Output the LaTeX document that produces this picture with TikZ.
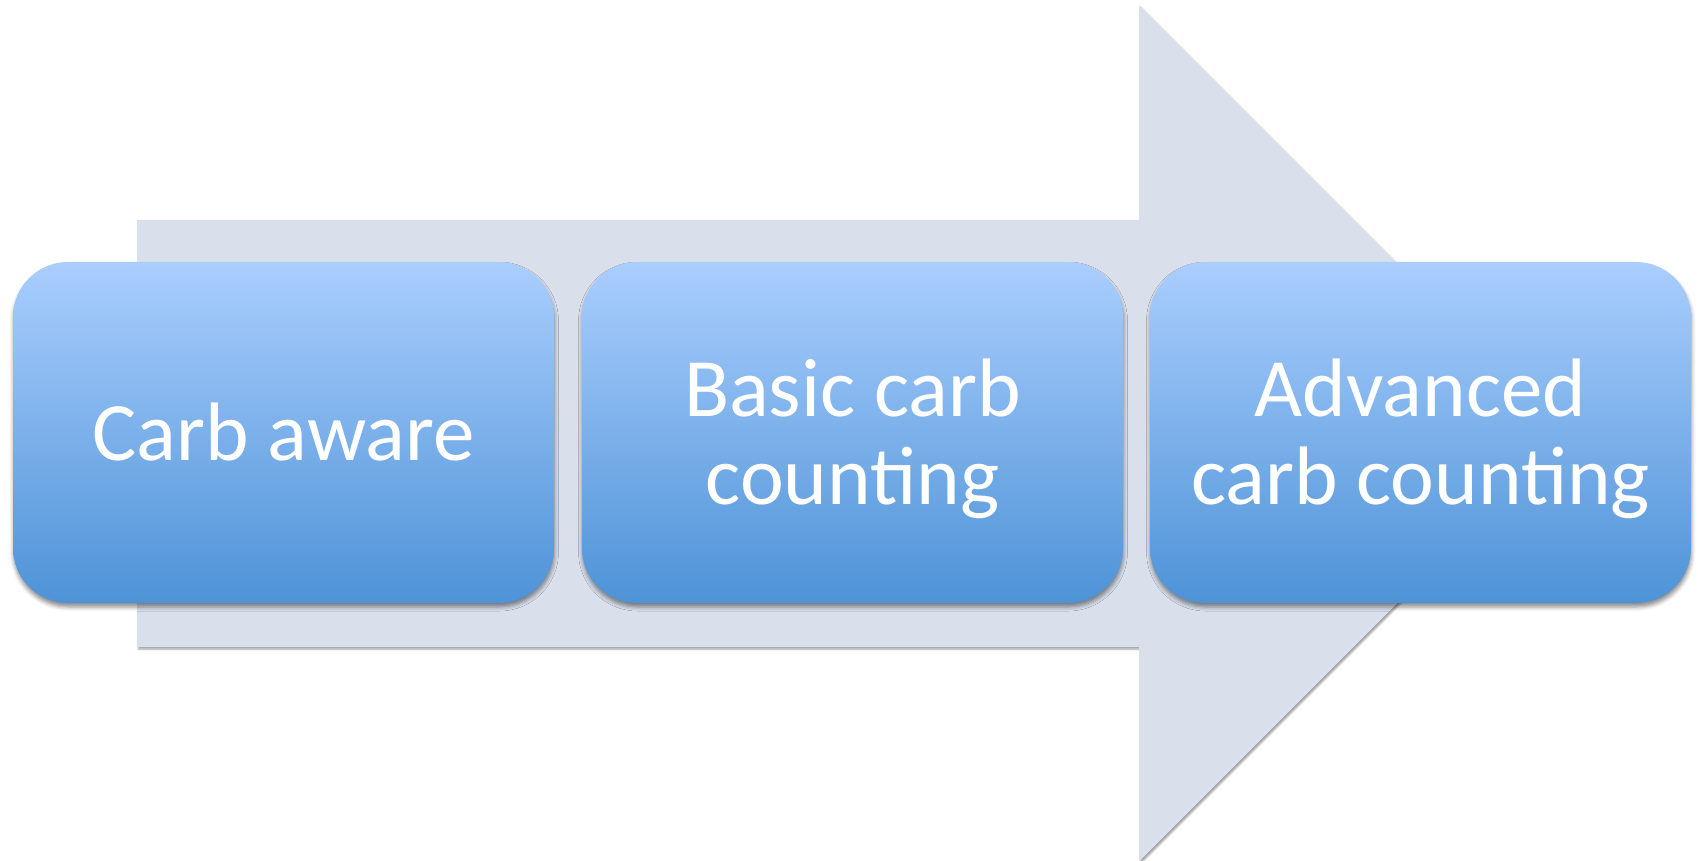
\documentclass[tikz,border=0pt]{standalone}
\usepackage{fontspec}
\setmainfont{Carlito}
\usetikzlibrary{shadows.blur}
\definecolor{arrowfill}{HTML}{D9E0EC}
\definecolor{boxtop}{HTML}{AACEFE}
\definecolor{boxbot}{HTML}{4E93D7}
\newcommand{\stagelines}[1]{\begin{tabular}[t]{@{}c@{}}#1\end{tabular}}
\begin{document}
\begin{tikzpicture}[x=1pt,y=-1pt,
  stagebox/.style={rounded corners=55pt, top color=boxtop, bottom color=boxbot,
    minimum width=541pt, minimum height=341pt, inner sep=0pt,
    blur shadow={shadow xshift=0.5pt, shadow yshift=-4pt, shadow blur radius=4pt, shadow opacity=45}},
  stagetext/.style={anchor=base, inner sep=0pt, text=white, font=\fontsize{83}{88}\selectfont},
  bigarrow/.style={fill=arrowfill,
    blur shadow={shadow xshift=1.5pt, shadow yshift=-2pt, shadow blur radius=2pt, shadow opacity=40}}]
\useasboundingbox (0,0) rectangle (1698,861);
\path[bigarrow] (137,220) -- (1139,220) -- (1139,5.5) -- (1567,433.5) -- (1139,861.5) -- (1139,647) -- (137,647) -- cycle;
\node[stagebox] (s1) at (283.5,432.5) {};
\node[stagebox] (s2) at (852.5,432.5) {};
\node[stagebox] (s3) at (1420.5,432.5) {};
\node[stagetext] (t1) at (283.5,460.8) {\stagelines{Carb aware}};
\node[stagetext] (t2) at (852.5,416.5) {\stagelines{Basic carb\\counting}};
\node[stagetext] (t3) at (1420.5,416.5) {\stagelines{Advanced\\carb counting}};
\end{tikzpicture}
\end{document}
